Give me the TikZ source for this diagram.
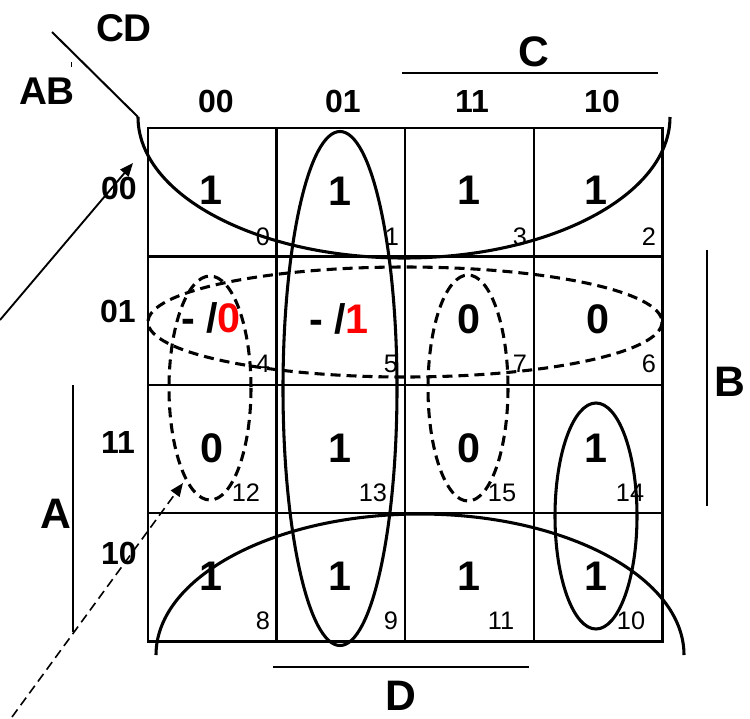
\documentclass[tikz,border=0pt]{standalone}
\usepackage{fontspec}
\setmainfont{Liberation Sans}
\usetikzlibrary{arrows.meta}
\begin{document}
\begin{tikzpicture}[x=0.75pt,y=-0.75pt,
  gridline/.style={line width=1.6pt},
  loopline/.style={line width=2.3pt},
  dloop/.style={line width=2.3pt,dash pattern=on 7.5pt off 4.5pt},
  barline/.style={line width=1.5pt},
  arr/.style={line width=1.4pt,-{Triangle[length=10pt,width=8pt]}},
  darr/.style={line width=1.2pt,dash pattern=on 7pt off 4pt,-{Triangle[length=10pt,width=8pt]}},
  val/.style={inner sep=0pt,font=\fontsize{31}{31}\selectfont\bfseries},
  hdr/.style={inner sep=0pt,font=\fontsize{24}{24}\selectfont\bfseries},
  num/.style={inner sep=0pt,font=\fontsize{19}{19}\selectfont},
  lbl/.style={inner sep=0pt,font=\fontsize{32}{32}\selectfont\bfseries},
  vlbl/.style={inner sep=0pt,font=\fontsize{29}{29}\selectfont\bfseries}]
\useasboundingbox (0,0) rectangle (750,718);
% grid
\draw[gridline] (148,128) rectangle (662.5,641.5);
\foreach \xx in {276.5,405,534} \draw[gridline] (\xx,128) -- (\xx,641.5);
\foreach \yy in {256.5,385,513} \draw[gridline] (148,\yy) -- (662.5,\yy);
% corner diagonal
\coordinate (dg1) at (52,32);
\coordinate (dg2) at (138,117);
\draw[barline] (dg1) -- (dg2);
\draw[line width=0.6pt] (71,62) -- (71,67);
% labels
\node[vlbl] (cd) at (124,28) {CD};
\node[vlbl] (ab) at (47,91) {AB};
\node[hdr] (c00) at (216,101) {00};
\node[hdr] (c01) at (343,101) {01};
\node[hdr] (c11) at (472,101) {11};
\node[hdr] (c10) at (602,101) {10};
\node[hdr] (r00) at (119,188) {00};
\node[hdr] (r01) at (118,311) {01};
\node[hdr] (r11) at (118,442) {11};
\node[hdr] (r10) at (119,553) {10};
% variable bars
\coordinate (cb1) at (402,73); \coordinate (cb2) at (658,73);
\draw[barline] (cb1) -- (cb2);
\node[lbl] (lc) at (534,52) {C};
\coordinate (bb1) at (707,250); \coordinate (bb2) at (707,506);
\draw[barline] (bb1) -- (bb2);
\node[lbl] (lb) at (730,382) {B};
\coordinate (ab1) at (73,385); \coordinate (ab2) at (73,632);
\draw[barline] (ab1) -- (ab2);
\node[lbl] (la) at (56,514) {A};
\coordinate (db1) at (273,667); \coordinate (db2) at (529,667);
\draw[barline] (db1) -- (db2);
\node[lbl] (ld) at (401,696) {D};
% cell values
\node[val] (v0) at (211,190) {1};
\node[val] (v1) at (340,191) {1};
\node[val] (v3) at (469,190) {1};
\node[val] (v2) at (596,190) {1};
\node[val] (v4) at (211,318) {- /\textcolor{red}{0}};
\node[val] (v5) at (339,319) {- /\textcolor{red}{1}};
\node[val] (v7) at (469,319) {0};
\node[val] (v6) at (598,319) {0};
\node[val] (v12) at (212,448) {0};
\node[val] (v13) at (340,448) {1};
\node[val] (v15) at (469,448) {0};
\node[val] (v14) at (596,448) {1};
\node[val] (v8) at (211,576) {1};
\node[val] (v9) at (340,576) {1};
\node[val] (v11) at (469,576) {1};
\node[val] (v10) at (596,576) {1};
% minterm numbers
\foreach \t/\x/\y in {0/263/237, 1/392/237, 3/520/237, 2/649/237,
  4/263/364, 5/391/364, 7/520/364, 6/649/364,
  12/246/493, 13/373/493, 15/502/493, 14/630/493,
  8/263/621, 9/391/621, 11/501/621, 10/631/621}
  \node[num] (m\t) at (\x,\y) {\t};
% loops
\draw[loopline] (404,117) ++(-266,0) arc[start angle=180,end angle=0,x radius=266,y radius=141];
\draw[loopline] (420,655) ++(-264,0) arc[start angle=180,end angle=360,x radius=264,y radius=141];
\draw[loopline] (340,388.5) ellipse[x radius=57,y radius=257];
\draw[loopline] (596,516) ellipse[x radius=41,y radius=113];
\draw[dloop] (405,322) ellipse[x radius=257,y radius=55];
\draw[dloop] (210,388) ellipse[x radius=41,y radius=112];
\draw[dloop] (468,388) ellipse[x radius=40,y radius=113];
% arrows
\coordinate (s1) at (0,320);
\coordinate (t1) at (133,163);
\draw[arr] (s1) -- (t1);
\coordinate (s2) at (12,717);
\coordinate (t2) at (183,483);
\draw[darr] (s2) -- (t2);
\end{tikzpicture}
\end{document}
